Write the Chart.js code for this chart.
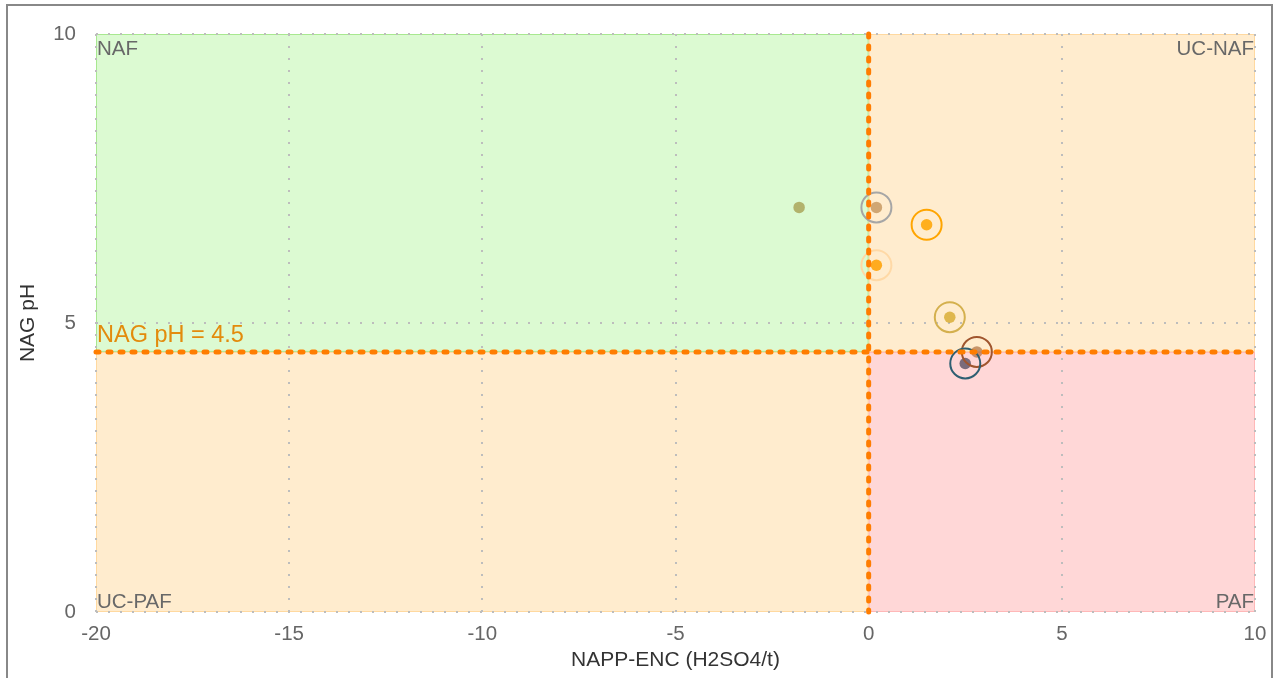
<!DOCTYPE html>
<html>
<head>
<meta charset="utf-8">
<title>NAPP-ENC vs NAG pH</title>
<script src="https://cdn.jsdelivr.net/npm/chart.js@4/dist/chart.umd.min.js"></script>
<style>
  html, body { margin: 0; padding: 0; background: #fff; overflow: hidden; }
  #frame { position: absolute; left: 6px; top: 4px; width: 1263px; height: 700px; border: 2px solid #888; }
  #wrap { position: relative; width: 1263px; height: 672px; }
</style>
</head>
<body>
<div id="frame"><div id="wrap"><canvas id="chart"></canvas></div></div>
<script>
// Samples: net acid producing potential (kg H2SO4/t) and NAG pH
const nappEnc = [-1.8, 0.2, 1.5, 0.2, 2.1, 2.8, 2.5];
const nagPh   = [7.0, 7.0, 6.7, 6.0, 5.1, 4.5, 4.3];

// Per-sample marker colours (dot fill and outer ring)
const dotColors  = ['rgba(150,130,40,0.6)', 'rgba(170,110,40,0.55)', 'rgba(255,165,0,0.85)', 'rgba(255,160,0,0.85)',
                    'rgba(215,170,45,0.8)', 'rgba(160,90,40,0.6)', 'rgba(90,80,100,0.8)'];
const ringColors = ['rgba(0,0,0,0)', '#a6a6a6', '#ffa500', '#ffd9a6', '#d4b04e', '#a0552e', '#2f5f72'];

// Classification thresholds
const nappThreshold = 0;
const nagThreshold = 4.5;
const thresholdLabel = 'NAG pH = 4.5';

// Axis ranges and tick spacing
const xRange = [-20, 10];
const yRange = [0, 10];
const tickStep = 5;

// Classification zones
const zoneNames  = ['NAF', 'UC-NAF', 'UC-PAF', 'PAF'];
const zoneFills  = ['#dcfad2', '#ffecce', '#ffecce', '#ffd7d7'];
const zoneEdges  = ['#a8e890', '#ffd9a0', '#ffd9a0', '#ffb8b8'];

const FONT = "'Liberation Sans', Arial, Helvetica, sans-serif";

const zones = [
  { name: zoneNames[0], xMin: xRange[0], xMax: nappThreshold, yMin: nagThreshold, yMax: yRange[1], fill: zoneFills[0], edge: zoneEdges[0], align: 'left',  vpos: 'top' },
  { name: zoneNames[1], xMin: nappThreshold, xMax: xRange[1], yMin: nagThreshold, yMax: yRange[1], fill: zoneFills[1], edge: zoneEdges[1], align: 'right', vpos: 'top' },
  { name: zoneNames[2], xMin: xRange[0], xMax: nappThreshold, yMin: yRange[0], yMax: nagThreshold, fill: zoneFills[2], edge: zoneEdges[2], align: 'left',  vpos: 'bottom' },
  { name: zoneNames[3], xMin: nappThreshold, xMax: xRange[1], yMin: yRange[0], yMax: nagThreshold, fill: zoneFills[3], edge: zoneEdges[3], align: 'right', vpos: 'bottom' }
];

// Coloured zone backgrounds, drawn underneath the grid
const zonePlugin = {
  id: 'zones',
  beforeDraw(chart) {
    const { ctx, scales: { x, y } } = chart;
    ctx.save();
    for (const z of zones) {
      const x0 = x.getPixelForValue(z.xMin), x1 = x.getPixelForValue(z.xMax);
      const y0 = y.getPixelForValue(z.yMax), y1 = y.getPixelForValue(z.yMin);
      ctx.fillStyle = z.fill;
      ctx.fillRect(x0, y0, x1 - x0, y1 - y0);
    }
    for (const z of zones) {
      const x0 = x.getPixelForValue(z.xMin), x1 = x.getPixelForValue(z.xMax);
      const y0 = y.getPixelForValue(z.yMax), y1 = y.getPixelForValue(z.yMin);
      ctx.strokeStyle = z.edge;
      ctx.lineWidth = 1;
      ctx.strokeRect(x0 + 0.5, y0 + 0.5, x1 - x0 - 1, y1 - y0 - 1);
    }
    ctx.restore();
  },
  afterDatasetsDraw(chart) {
    const { ctx, chartArea: a, scales: { x, y } } = chart;
    ctx.save();
    // zone names
    ctx.font = '20.5px ' + FONT;
    ctx.fillStyle = '#686868';
    ctx.textBaseline = 'alphabetic';
    for (const z of zones) {
      const x0 = x.getPixelForValue(z.xMin), x1 = x.getPixelForValue(z.xMax);
      const y0 = y.getPixelForValue(z.yMax), y1 = y.getPixelForValue(z.yMin);
      ctx.textAlign = z.align;
      const tx = z.align === 'left' ? x0 + 1 : x1 - 1;
      const ty = z.vpos === 'top' ? y0 + 21 : y1 - 4;
      ctx.fillText(z.name, tx, ty);
    }
    // threshold lines
    const xz = x.getPixelForValue(nappThreshold);
    const yz = y.getPixelForValue(nagThreshold);
    ctx.strokeStyle = '#ff7d00';
    ctx.lineWidth = 5;
    ctx.lineCap = 'round';
    ctx.setLineDash([3, 9]);
    ctx.beginPath();
    ctx.moveTo(a.left, yz); ctx.lineTo(a.right, yz);
    ctx.stroke();
    ctx.beginPath();
    ctx.moveTo(xz, a.top); ctx.lineTo(xz, a.bottom);
    ctx.stroke();
    ctx.setLineDash([]);
    // threshold label
    ctx.font = '23.5px ' + FONT;
    ctx.fillStyle = '#e38b0c';
    ctx.textAlign = 'left';
    ctx.fillText(thresholdLabel, a.left + 1, yz - 10);
    ctx.restore();
  }
};

const points = nappEnc.map((v, i) => ({ x: v, y: nagPh[i] }));

// Fixed axis box sizes so the plot area sits at a known place
function fixBox(axis, size) {
  if (axis.isHorizontal()) axis.height = size; else axis.width = size;
  axis.paddingLeft = 0; axis.paddingRight = 0; axis.paddingTop = 0; axis.paddingBottom = 0;
}

new Chart(document.getElementById('chart'), {
  type: 'scatter',
  data: {
    datasets: [
      {
        label: 'rings',
        data: points,
        pointStyle: 'circle',
        pointRadius: 15,
        pointBorderWidth: 2,
        pointBackgroundColor: 'rgba(0,0,0,0)',
        pointBorderColor: ringColors,
        order: 0
      },
      {
        label: 'samples',
        data: points,
        pointStyle: 'circle',
        pointRadius: 5.75,
        pointBorderWidth: 0,
        pointBackgroundColor: dotColors,
        pointBorderColor: dotColors,
        order: 1
      }
    ]
  },
  options: {
    responsive: true,
    maintainAspectRatio: false,
    animation: false,
    events: [],
    layout: { autoPadding: false, padding: { left: 0, right: 16, top: 28, bottom: 0 } },
    plugins: {
      legend: { display: false },
      tooltip: { enabled: false }
    },
    scales: {
      x: {
        type: 'linear',
        min: xRange[0],
        max: xRange[1],
        afterFit(axis) { fixBox(axis, 66); },
        ticks: { stepSize: tickStep, color: '#666', font: { family: FONT, size: 20.5 }, padding: 10, maxRotation: 0 },
        grid: { color: '#bdbdbd', lineWidth: 2, drawTicks: false },
        border: { display: false, dash: [2, 10] },
        title: { display: true, text: 'NAPP-ENC (H2SO4/t)', color: '#333', font: { family: FONT, size: 21 }, padding: { top: 4, bottom: 5 } }
      },
      y: {
        type: 'linear',
        min: yRange[0],
        max: yRange[1],
        afterFit(axis) { fixBox(axis, 88); },
        ticks: { stepSize: tickStep, color: '#666', font: { family: FONT, size: 20.5 }, padding: 20 },
        grid: { color: '#bdbdbd', lineWidth: 2, drawTicks: false },
        border: { display: false, dash: [2, 10] },
        title: { display: true, text: 'NAG pH', color: '#333', font: { family: FONT, size: 21 }, padding: { top: 8, bottom: 4 } }
      }
    }
  },
  plugins: [zonePlugin]
});
</script>
</body>
</html>
